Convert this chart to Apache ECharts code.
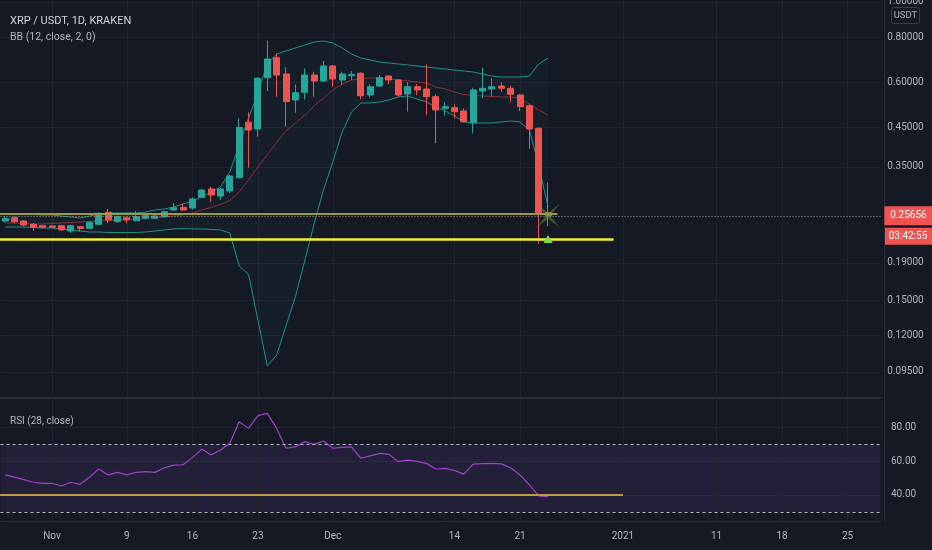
<!DOCTYPE html>
<html><head><meta charset="utf-8">
<script src="https://cdn.jsdelivr.net/npm/echarts@6/dist/echarts.min.js"></script>
<style>html,body{margin:0;padding:0;background:#151924;}#c{width:932px;height:550px;}</style>
</head><body><div id="c"></div>
<script>
// ---- data (daily candles from 2020-10-27) ----
const startDate = [2020, 9, 27];
const dayCount = 94;
const opens  = [.2482,.2535,.2482,.2430,.2409,.2404,.2409,.2329,.2394,.2369,.2430,.2623,.2471,.2535,.2487,.2525,.2525,.2551,.2662,.2708,.2696,.2886,.3042,.2910,.3004,.3269,.4650,.4456,.6175,.7013,.6322,.5359,.5628,.6282,.6047,.6652,.6086,.6254,.6351,.5532,.5858,.6242,.6086,.5567,.5832,.5747,.5472,.5083,.5103,.4997,.4638,.5674,.5747,.5858,.5773,.5532,.5168,.4476,.2617];
const closes = [.2525,.2471,.2420,.2385,.2385,.2385,.2344,.2409,.2369,.2462,.2607,.2498,.2551,.2498,.2551,.2567,.2562,.2633,.2701,.2662,.2855,.3023,.2928,.3042,.3305,.4500,.4428,.6152,.6955,.6282,.5301,.5613,.6282,.6047,.6652,.6125,.6322,.6310,.5507,.5832,.6175,.6086,.5532,.5832,.5711,.5472,.5028,.5135,.4974,.4668,.5711,.5773,.5832,.5773,.5557,.5135,.4456,.2607,.25656];
const lows   = [.2458,.2446,.2404,.2329,.2366,.2374,.2329,.2300,.2319,.2359,.2420,.2446,.2458,.2446,.2474,.2514,.2514,.2538,.2645,.2645,.2670,.2873,.2806,.2837,.2966,.3252,.3484,.4243,.5674,.5472,.4522,.4943,.5383,.5472,.6009,.5832,.5895,.6086,.5383,.5438,.5821,.5921,.5472,.4974,.5532,.4871,.4069,.4849,.4770,.4644,.4336,.5417,.5472,.5649,.5281,.4997,.3924,.2144,.2404];
const highs  = [.2562,.2551,.2498,.2451,.2420,.2420,.2420,.2420,.2404,.2474,.2620,.2679,.2570,.2554,.2645,.2579,.2579,.2645,.2783,.2783,.2886,.3042,.3087,.3062,.3326,.4770,.4955,.6203,.7814,.7212,.6598,.5921,.6556,.6416,.6867,.6695,.6416,.6444,.6383,.5921,.6282,.6262,.6125,.5997,.5921,.6725,.5557,.5281,.5214,.5083,.5795,.6581,.6152,.5997,.5869,.5567,.5208,.4499,.3167];
const upperBand  = [.2595,.2595,.2595,.2587,.2579,.2579,.2562,.2546,.2530,.2562,.2595,.2612,.2612,.2612,.2612,.2628,.2662,.2679,.2713,.2765,.2819,.2891,.2985,.3081,.3390,.4025,.4779,.5603,.6738,.7180,.7318,.7459,.7603,.7750,.7799,.7701,.7459,.7180,.7000,.6911,.6824,.6781,.6738,.6695,.6652,.6610,.6568,.6527,.6485,.6444,.6403,.6322,.6242,.6203,.6203,.6203,.6242,.6738,.7000];
const middleBand = [.2451,.2451,.2443,.2435,.2435,.2443,.2451,.2458,.2466,.2474,.2482,.2490,.2498,.2506,.2514,.2522,.2530,.2546,.2562,.2579,.2612,.2662,.2705,.2757,.2828,.2985,.3222,.3499,.3777,.4089,.4400,.4629,.4871,.5158,.5427,.5711,.5933,.6086,.6125,.6164,.6164,.6125,.6086,.6047,.6009,.5971,.5821,.5747,.5638,.5549,.5514,.5497,.5480,.5462,.5462,.5427,.5224,.5028,.4871];
const lowerBand  = [.2389,.2389,.2389,.2381,.2374,.2374,.2359,.2344,.2329,.2314,.2314,.2307,.2307,.2307,.2307,.2314,.2329,.2344,.2359,.2366,.2359,.2359,.2351,.2344,.2300,.1864,.1766,.1322,.0987,.1058,.1273,.1531,.1924,.2435,.3023,.3612,.4372,.4965,.5257,.5257,.5291,.5359,.5462,.5497,.5393,.5291,.5125,.4997,.4840,.4659,.4629,.4629,.4629,.4659,.4689,.4659,.4428,.3544,.2713];
const rsi = [51.8,50.5,49,47.5,46.8,46.9,45.3,47.5,46.3,50.5,55.3,51.8,53.3,51.8,53.3,53.8,53.3,56,57.6,57.8,62,67,63.5,66.5,70.4,83.1,79.2,86.7,88,79.2,67.5,68.3,71.4,69.8,71.8,67.5,68,68.3,61.6,63,64.5,63.9,59.6,60.5,59.8,58.6,55.3,55.7,54.5,52.3,58.2,58.5,58.6,58.3,56,51.8,46,39.5,39];
const priceTicks = [1.0, 0.8, 0.6, 0.45, 0.35, 0.19, 0.15, 0.12, 0.095];
const rsiTicks = [40, 60, 80];
const tickDates  = ['2020-11-01','2020-11-09','2020-11-16','2020-11-23','2020-12-01','2020-12-14','2020-12-21','2021-01-01','2021-01-11','2021-01-18','2021-01-25'];
const tickLabels = ['Nov','9','16','23','Dec','14','21','2021','11','18','25'];
const supportLevel = 0.2607;   // olive horizontal line
const supportEnd = '2020-12-25';
const lowLevel = 0.2211;       // yellow horizontal line
const lowEnd = '2020-12-31';
const rsiLevel = 40.3;
const rsiLevelEnd = '2021-01-01';
const lastPrice = 0.25656;
const timerText = '03:42:55';

// ---- build ----
const categories = [];
for (let i = 0; i < dayCount; i++) {
  const d = new Date(Date.UTC(startDate[0], startDate[1], startDate[2] + i));
  categories.push(d.toISOString().slice(0, 10));
}
const labelMap = {};
tickDates.forEach((d, i) => labelMap[d] = tickLabels[i]);
const candleData = opens.map((o, i) => [o, closes[i], lows[i], highs[i]]);
const bandDiff = upperBand.map((u, i) => +(u - lowerBand[i]).toFixed(4));
const lastIdx = closes.length - 1;

const FONT = "Roboto,'Liberation Sans',Arial,sans-serif";
const BG = '#151924', GRIDC = '#20242f', TXT = '#b2b5be', SEP = '#2a2e39';
const UP = '#26a69a', DOWN = '#ef5350', BBC = '#1e9486', MIDC = '#8a2f3c';

const gridLeft = 0.52, gridWidth = dayCount * 9.36;
const gridRight = 932 - gridLeft - gridWidth;
const axisOffset = 884 - (gridLeft + gridWidth);

const chart = echarts.init(document.getElementById('c'));
const option = {
  backgroundColor: BG,
  animation: false,
  textStyle: { fontFamily: FONT },
  title: [
    { text: 'XRP / USDT, 1D, KRAKEN', left: 5, top: 11, textStyle: { color: '#d1d4dc', fontSize: 11, fontWeight: 'normal', fontFamily: FONT } },
    { text: 'BB (12, close, 2, 0)', left: 5, top: 27, textStyle: { color: TXT, fontSize: 10.5, fontWeight: 'normal', fontFamily: FONT } },
    { text: 'RSI (28, close)', left: 5, top: 411, textStyle: { color: TXT, fontSize: 10, fontWeight: 'normal', fontFamily: FONT } }
  ],
  grid: [
    { left: gridLeft, right: gridRight, top: 0, height: 398 },
    { left: gridLeft, right: gridRight, top: 400, height: 121 }
  ],
  xAxis: [
    { type: 'category', gridIndex: 0, data: categories, boundaryGap: true,
      axisLine: { show: true, lineStyle: { color: SEP, width: 2 } }, axisTick: { show: false },
      axisLabel: { show: false }, splitLine: { show: false } },
    { type: 'category', gridIndex: 1, data: categories, boundaryGap: true,
      axisLine: { show: true, lineStyle: { color: SEP } }, axisTick: { show: false },
      axisLabel: { color: TXT, fontSize: 10, margin: 10, fontFamily: FONT,
        interval: (i, v) => labelMap[v] !== undefined, formatter: v => labelMap[v] || '' },
      splitLine: { show: false } }
  ],
  yAxis: [
    { type: 'log', gridIndex: 0, position: 'right', offset: axisOffset, min: 0.0805, max: 1.0123,
      axisLine: { show: true, lineStyle: { color: SEP } }, axisTick: { show: false },
      axisLabel: { show: false }, splitLine: { show: false } },
    { type: 'value', gridIndex: 1, position: 'right', offset: axisOffset, min: 24.7, max: 95.9,
      axisLine: { show: true, lineStyle: { color: SEP } }, axisTick: { show: false, customValues: rsiTicks },
      axisLabel: { customValues: rsiTicks, formatter: v => v.toFixed(2), color: TXT, fontSize: 10, margin: 7, fontFamily: FONT },
      splitLine: { show: true, lineStyle: { color: GRIDC } } }
  ],
  series: [
    // grid helper (main pane)
    { type: 'line', xAxisIndex: 0, yAxisIndex: 0, data: closes, symbol: 'none', silent: true,
      lineStyle: { opacity: 0 }, z: 1,
      markLine: { z: 1, silent: true, symbol: ['none', 'none'], animation: false, precision: 5,
        lineStyle: { color: GRIDC, width: 1, type: 'solid' },
        label: { show: false },
        data: tickDates.map(d => ({ xAxis: d })).concat(priceTicks.map(v => ({
          yAxis: v,
          label: { show: true, position: 'end', distance: 7, color: TXT, fontSize: 10, fontFamily: FONT,
            formatter: p => Number(p.value).toFixed(5) }
        }))) } },
    // Bollinger fill
    { type: 'line', name: 'bbLowBase', xAxisIndex: 0, yAxisIndex: 0, data: lowerBand, stack: 'bb', symbol: 'none',
      lineStyle: { color: BBC, width: 1 }, z: 2, silent: true },
    { type: 'line', name: 'bbFill', xAxisIndex: 0, yAxisIndex: 0, data: bandDiff, stack: 'bb', symbol: 'none',
      lineStyle: { opacity: 0 }, areaStyle: { color: 'rgba(38,166,154,0.06)' }, z: 2, silent: true },
    { type: 'line', name: 'bbUpper', xAxisIndex: 0, yAxisIndex: 0, data: upperBand, symbol: 'none',
      lineStyle: { color: BBC, width: 1 }, z: 2, silent: true },
    { type: 'line', name: 'bbMiddle', xAxisIndex: 0, yAxisIndex: 0, data: middleBand, symbol: 'none',
      lineStyle: { color: MIDC, width: 1 }, z: 2, silent: true },
    // candles
    { type: 'candlestick', name: 'XRP', xAxisIndex: 0, yAxisIndex: 0, data: candleData, barWidth: 6.5, z: 3,
      itemStyle: { color: UP, color0: DOWN, borderColor: UP, borderColor0: DOWN, borderWidth: 1 },
      markLine: { silent: true, symbol: ['none', 'none'], animation: false, precision: 5,
        data: [
          [ { x: 0, yAxis: supportLevel, lineStyle: { color: '#9c9a3a', width: 2, type: 'solid' }, label: { show: false } },
            { xAxis: supportEnd, yAxis: supportLevel } ],
          [ { x: 0, yAxis: lowLevel, lineStyle: { color: '#f2f230', width: 2.5, type: 'solid' }, label: { show: false } },
            { xAxis: lowEnd, yAxis: lowLevel } ],
          { yAxis: lastPrice, lineStyle: { color: '#9a9ca6', width: 1, type: [1, 2] },
            label: { show: true, position: 'end', distance: 4, color: '#ffffff', backgroundColor: '#f05350',
              padding: [5, 6, 4, 6], fontSize: 10, fontFamily: FONT, formatter: p => Number(p.value).toFixed(5) } }
        ] },
      markPoint: { silent: true, animation: false, label: { show: false },
        data: [
          { coord: [categories[lastIdx], closes[lastIdx]], symbol: 'path://M0,0 L12,9 L24,0 L14,12 L24,24 L12,15 L0,24 L10,12 Z',
            symbolSize: [24, 24], itemStyle: { color: 'rgba(96,170,60,0.45)' } },
          { coord: [categories[lastIdx], lows[lastIdx]], symbol: 'triangle', symbolSize: [9, 8], symbolOffset: [0, 13],
            itemStyle: { color: '#7ed957' } }
        ] } },
    // RSI helper: grid + band
    { type: 'line', xAxisIndex: 1, yAxisIndex: 1, data: rsi, symbol: 'none', silent: true, lineStyle: { opacity: 0 }, z: 1,
      markArea: { silent: true, itemStyle: { color: 'rgba(126,87,194,0.13)' }, data: [[{ yAxis: 30 }, { yAxis: 70 }]] },
      markLine: { z: 1, silent: true, symbol: ['none', 'none'], label: { show: false }, animation: false,
        lineStyle: { color: GRIDC, width: 1, type: 'solid' },
        data: tickDates.map(d => ({ xAxis: d })) } },
    // RSI line
    { type: 'line', name: 'RSI', xAxisIndex: 1, yAxisIndex: 1, data: rsi, symbol: 'none', z: 3,
      lineStyle: { color: '#a23fcb', width: 1.2 },
      markLine: { silent: true, symbol: ['none', 'none'], label: { show: false }, animation: false, precision: 2,
        data: [
          { yAxis: 70, lineStyle: { color: '#b8bac2', width: 1, type: [3, 3] } },
          { yAxis: 30, lineStyle: { color: '#b8bac2', width: 1, type: [3, 3] } },
          [ { x: 0, yAxis: rsiLevel, lineStyle: { color: '#bf9a45', width: 2, type: 'solid' } },
            { xAxis: rsiLevelEnd, yAxis: rsiLevel } ]
        ] } }
  ]
};
chart.setOption(option);

const py = chart.convertToPixel({ xAxisIndex: 0, yAxisIndex: 0 }, [categories[lastIdx], lastPrice])[1];
chart.setOption({
  graphic: [
    { type: 'group', left: 884, top: py + 12, children: [
      { type: 'rect', shape: { x: 0, y: 0, width: 48, height: 17 }, style: { fill: '#f05350' } },
      { type: 'text', x: 24, y: 8.5, style: { text: timerText, fill: '#ffffff', font: '10px ' + FONT, align: 'center', verticalAlign: 'middle' } }
    ] },
    { type: 'group', left: 891, top: 7, children: [
      { type: 'rect', shape: { x: 0, y: 0, width: 28, height: 16, r: 2 }, style: { fill: BG, stroke: '#3a3e4a', lineWidth: 1 } },
      { type: 'text', x: 14, y: 8, style: { text: 'USDT', fill: TXT, font: '9.5px ' + FONT, align: 'center', verticalAlign: 'middle' } }
    ] }
  ]
});
</script>
</body></html>
